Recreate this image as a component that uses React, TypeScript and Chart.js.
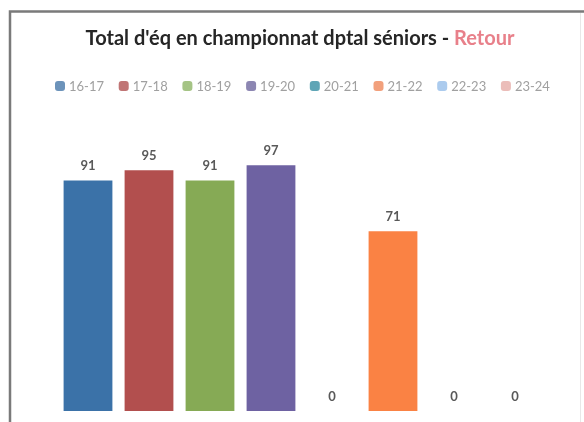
import React, { useEffect, useRef } from "react";
import { Chart, registerables } from "chart.js";

Chart.register(...registerables);

const seasons = ["16-17", "17-18", "18-19", "19-20", "20-21", "21-22", "22-23", "23-24"];
const totals = [91, 95, 91, 97, 0, 71, 0, 0];
const barColors = ["#3B72A8", "#B24F4E", "#86AA55", "#6E62A2", "#4BA0B5", "#FA8244", "#9EC3EA", "#E9B1AE"];
const legendColors = ["#6C93BA", "#C07575", "#A5C485", "#8C86B2", "#5FA5B6", "#F2A07C", "#ABCBEE", "#EBBDB9"];
const titleMain = "Total d'éq en championnat dptal séniors - ";
const titleAccent = "Retour";
const yMax = 120;

const FONT = "Lato, 'Open Sans', sans-serif";

const framePlugin = {
  id: "frame",
  beforeDraw(chart: any) {
    const ctx = chart.ctx;
    ctx.save();
    ctx.fillStyle = "#ffffff";
    ctx.fillRect(0, 0, chart.width, chart.height);
    ctx.strokeStyle = "#7a7a7a";
    ctx.lineWidth = 2.5;
    ctx.beginPath();
    ctx.moveTo(10, chart.height);
    ctx.lineTo(10, 11.5);
    ctx.lineTo(chart.width, 11.5);
    ctx.stroke();
    ctx.strokeStyle = "#e8e8e8";
    ctx.lineWidth = 1;
    ctx.beginPath();
    ctx.moveTo(580.5, 13);
    ctx.lineTo(580.5, chart.height);
    ctx.stroke();
    ctx.restore();
  },
};

const titlePlugin = {
  id: "twoColorTitle",
  afterDraw(chart: any) {
    const ctx = chart.ctx;
    ctx.save();
    ctx.font = `bold 20px ${FONT}`;
    ctx.textBaseline = "alphabetic";
    const w1 = ctx.measureText(titleMain).width;
    const w2 = ctx.measureText(titleAccent).width;
    const cx = 300;
    const x0 = cx - (w1 + w2) / 2;
    ctx.fillStyle = "#262626";
    ctx.fillText(titleMain, x0, 45);
    ctx.fillStyle = "#E8808A";
    ctx.fillText(titleAccent, x0 + w1, 45);
    ctx.restore();
  },
};

const legendPlugin = {
  id: "seasonLegend",
  afterDraw(chart: any) {
    const ctx = chart.ctx;
    ctx.save();
    ctx.font = `13px ${FONT}`;
    ctx.textBaseline = "middle";
    ctx.textAlign = "left";
    const y = 86;
    chart.data.datasets.forEach((ds: any, i: number) => {
      const tx = 69 + i * 63.7;
      ctx.fillStyle = legendColors[i];
      ctx.beginPath();
      if ((ctx as any).roundRect) {
        (ctx as any).roundRect(tx - 14, y - 5, 10, 10, 3);
      } else {
        ctx.rect(tx - 14, y - 5, 10, 10);
      }
      ctx.fill();
      ctx.fillStyle = "#A0A0A0";
      ctx.fillText(ds.label, tx, y + 0.5);
    });
    ctx.restore();
  },
};

const valueLabelPlugin = {
  id: "valueLabels",
  afterDatasetsDraw(chart: any) {
    const ctx = chart.ctx;
    ctx.save();
    ctx.font = `bold 13px ${FONT}`;
    ctx.fillStyle = "#595959";
    ctx.textAlign = "center";
    ctx.textBaseline = "bottom";
    chart.data.datasets.forEach((ds: any, i: number) => {
      const meta = chart.getDatasetMeta(i);
      meta.data.forEach((el: any, j: number) => {
        ctx.fillText(String(ds.data[j]), el.x, el.y - 8);
      });
    });
    ctx.restore();
  },
};

export default function App() {
  const ref = useRef<HTMLCanvasElement | null>(null);

  useEffect(() => {
    if (!ref.current) return;
    const chart = new Chart(ref.current, {
      type: "bar",
      data: {
        labels: [""],
        datasets: seasons.map((s, i) => ({
          label: s,
          data: [totals[i]],
          backgroundColor: barColors[i],
          borderWidth: 0,
          categoryPercentage: 1,
          barPercentage: 0.8,
        })),
      },
      options: {
        responsive: false,
        animation: false,
        layout: { padding: { top: 107, left: 57.5, right: 38.5, bottom: 11 } },
        scales: {
          x: { display: false },
          y: { display: false, min: 0, max: yMax },
        },
        plugins: {
          title: { display: false },
          tooltip: { enabled: false },
          legend: { display: false },
        },
      },
      plugins: [framePlugin, titlePlugin, legendPlugin, valueLabelPlugin],
    });
    return () => chart.destroy();
  }, []);

  return (
    <div style={{ position: "fixed", left: 0, top: 0, width: 584, height: 422, background: "#fff" }}>
      <canvas ref={ref} width={584} height={422} style={{ display: "block" }} />
    </div>
  );
}
